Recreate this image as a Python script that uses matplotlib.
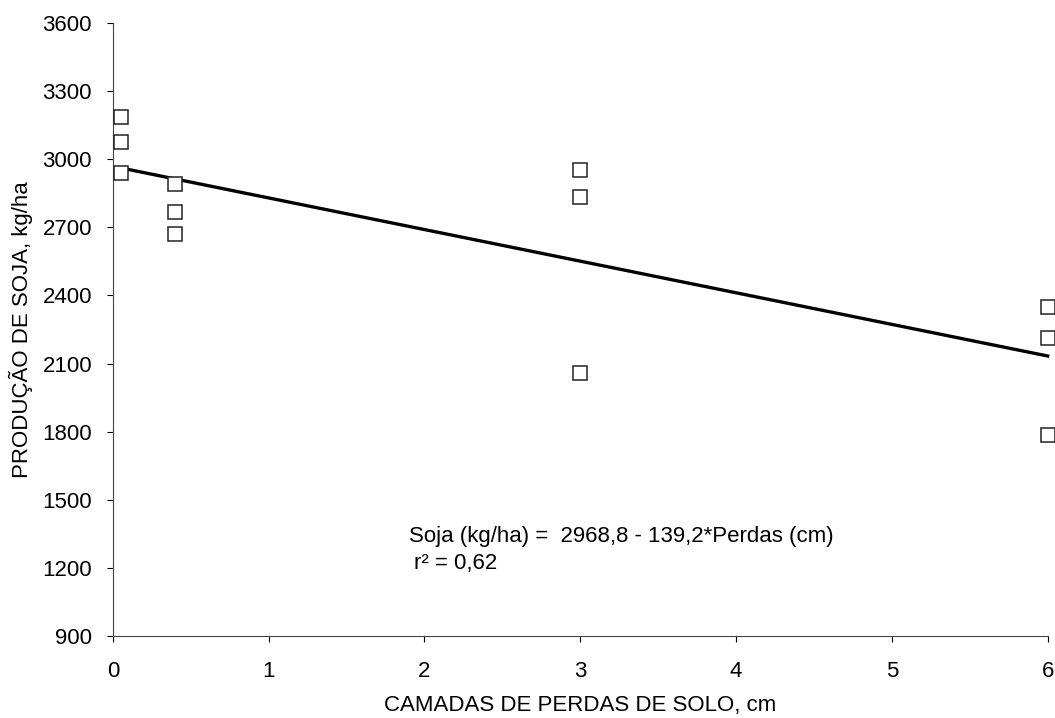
import matplotlib.pyplot as plt

plt.rcParams['font.family'] = ['Liberation Sans', 'DejaVu Sans']

perdas = [0.05, 0.05, 0.05, 0.4, 0.4, 0.4, 3, 3, 3, 6, 6, 6]
soja = [3186, 3076, 2939, 2891, 2767, 2671, 2953, 2833, 2058, 2349, 2212, 1785]

a, b = 2968.8, -139.2
linha_x = [0.05, 6]
linha_y = [a + b * x for x in linha_x]

fig = plt.figure(figsize=(10.55, 7.18), dpi=100)
ax = fig.add_axes([0.107, 0.114, 0.886, 0.854])

ax.plot(perdas, soja, 's', markersize=10.5, markerfacecolor='white',
        markeredgecolor='#222222', markeredgewidth=1.1, linestyle='none', zorder=3)
ax.plot(linha_x, linha_y, color='black', linewidth=2.4, zorder=2)

ax.set_xlim(0, 6)
ax.set_ylim(900, 3600)
ax.set_xticks(range(0, 7))
ax.set_yticks(range(900, 3601, 300))
ax.spines['top'].set_visible(False)
ax.spines['right'].set_visible(False)
ax.tick_params(labelsize=16, direction='out', length=4)
ax.tick_params(axis='x', pad=14)
ax.tick_params(axis='y', pad=11)
ax.set_xlabel('CAMADAS DE PERDAS DE SOLO, cm', fontsize=16, labelpad=9)
ax.set_ylabel('PRODUÇÃO DE SOJA, kg/ha', fontsize=16, labelpad=7)
for s in ['left', 'bottom']:
    ax.spines[s].set_color('#444444')

ax.text(1.9, 1340, 'Soja (kg/ha) =  2968,8 - 139,2*Perdas (cm)', fontsize=16, va='center')
ax.text(1.93, 1220, 'r² = 0,62', fontsize=16, va='center')
for l in ax.lines:
    l.set_clip_on(False)

fig.savefig('out.png', dpi=100)
